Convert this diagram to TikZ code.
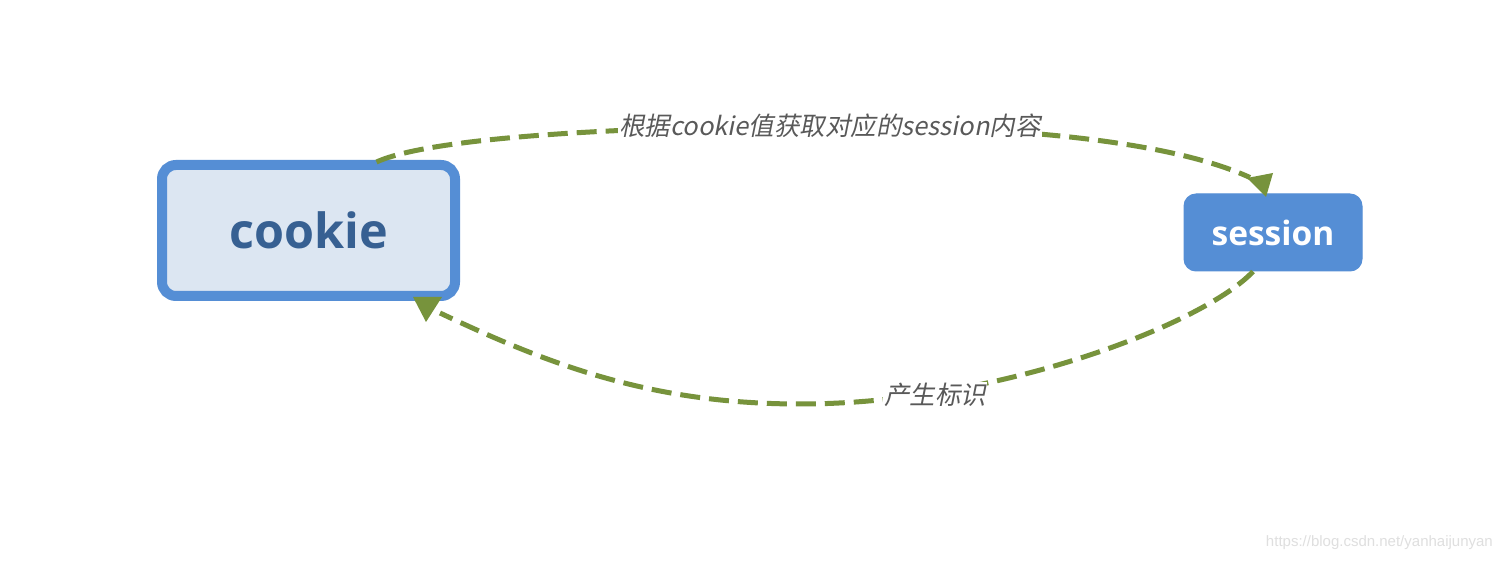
\documentclass[tikz,border=0pt]{standalone}
\usepackage{fontspec}
\newfontfamily\cjk[FakeSlant=0.2]{Noto Sans CJK SC}
\newfontfamily\boxfont{Open Sans}
\newfontfamily\wmfont{Liberation Sans}
\definecolor{boxblue}{HTML}{558ED5}
\definecolor{cookiefill}{HTML}{DCE6F2}
\definecolor{cookietext}{HTML}{376092}
\definecolor{arrowgreen}{HTML}{77933C}
\definecolor{lbltext}{HTML}{595959}
\tikzset{
  cookiebox/.style={draw=boxblue, line width=10pt, fill=cookiefill, rounded corners=14pt,
    minimum width=293pt, minimum height=131pt, inner sep=0pt, text=cookietext,
    font=\boxfont\bfseries\fontsize{48.5}{55}\selectfont},
  sessionbox/.style={draw=boxblue, line width=1pt, fill=boxblue, rounded corners=12pt,
    minimum width=178pt, minimum height=77pt, inner sep=0pt, text=white,
    font=\boxfont\bfseries\fontsize{33.5}{40}\selectfont},
  conn/.style={draw=arrowgreen, line width=5pt, dash pattern=on 20pt off 9pt},
  lbl/.style={fill=white, text=lbltext, inner sep=1pt, font=\cjk\fontsize{25.5}{30}\selectfont},
  headtip/.style={fill=arrowgreen}
}
\begin{document}
\begin{tikzpicture}[x=1pt,y=1pt]
\useasboundingbox (0,0) rectangle (1502,560);
\fill[white] (0,0) rectangle (1502,560);
\node[cookiebox] (cookie) at (308.5,329.5) {cookie};
\node[sessionbox] (session) at (1273,327.5) {session};
% top connector
\draw[conn] ([xshift=68pt,yshift=-2pt]cookie.north) .. controls (431,423) and (630,434) .. (830,434)
  node[lbl] (toplabel) {根据cookie值获取对应的session内容}
  .. controls (980,434) and (1159,424) .. ([xshift=-23pt,yshift=16pt]session.north);
\fill[headtip] (1266,363) -- (1247,382) -- (1273,387) -- cycle;
% bottom connector
\draw[conn] ([xshift=-20pt]session.south) .. controls (1205,237) and (1000,156) .. (800,156)
  .. controls (650,156) and (548,196) .. ([xshift=131.5pt,yshift=-12pt]cookie.south);
\node[lbl] (botlabel) at (935,165) {产生标识};
\fill[headtip] (413,263) -- (442,263) -- (426,238) -- cycle;
% watermark
\node[text=gray!25, font=\wmfont\fontsize{15}{18}\selectfont, anchor=east, inner sep=0pt] (wm) at (1493,17) {https://blog.csdn.net/yanhaijunyan};
\end{tikzpicture}
\end{document}
